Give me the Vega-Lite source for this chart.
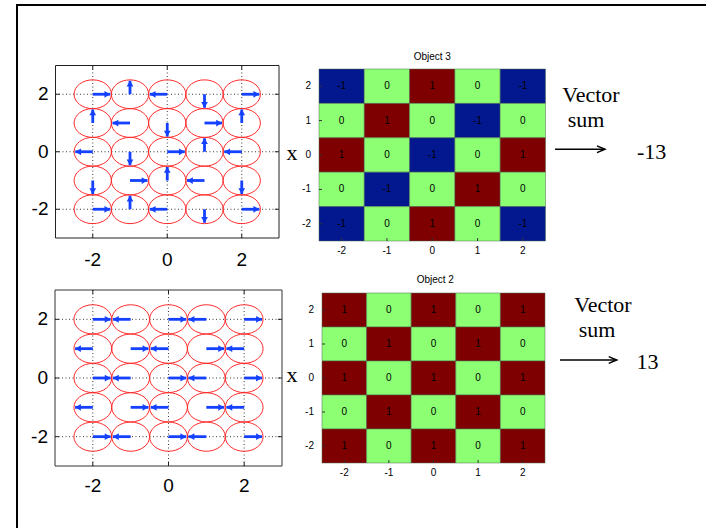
{
  "$schema": "https://vega.github.io/schema/vega-lite/v6.json",
  "width": 689,
  "height": 523,
  "autosize": {"type": "none"},
  "padding": {"left": 17, "top": 5, "right": 0, "bottom": 0},
  "background": "white",
  "config": {
    "view": {"stroke": null},
    "axis": {"disable": true},
    "legend": {"disable": true},
    "text": {"font": "Liberation Sans"}
  },
  "datasets": {
    "qticks": [{"t": -2, "label": "-2"}, {"t": 0, "label": "0"}, {"t": 2, "label": "2"}],
    "hticks": [{"t": -2, "label": "-2"}, {"t": -1, "label": "-1"}, {"t": 0, "label": "0"}, {"t": 1, "label": "1"}, {"t": 2, "label": "2"}],
    "arrows3": [
      {"x": -2, "y": 2, "tx": -1.53, "ty": 2, "deg": 90},
      {"x": -1, "y": 2, "tx": -1, "ty": 2.47, "deg": 0},
      {"x": 0, "y": 2, "tx": -0.47, "ty": 2, "deg": 270},
      {"x": 1, "y": 2, "tx": 1, "ty": 1.53, "deg": 180},
      {"x": 2, "y": 2, "tx": 2.47, "ty": 2, "deg": 90},
      {"x": -2, "y": 1, "tx": -2, "ty": 1.47, "deg": 0},
      {"x": -1, "y": 1, "tx": -1.47, "ty": 1, "deg": 270},
      {"x": 0, "y": 1, "tx": 0, "ty": 0.53, "deg": 180},
      {"x": 1, "y": 1, "tx": 1.47, "ty": 1, "deg": 90},
      {"x": 2, "y": 1, "tx": 2, "ty": 1.47, "deg": 0},
      {"x": -2, "y": 0, "tx": -2.47, "ty": 0, "deg": 270},
      {"x": -1, "y": 0, "tx": -1, "ty": -0.47, "deg": 180},
      {"x": 0, "y": 0, "tx": 0.47, "ty": 0, "deg": 90},
      {"x": 1, "y": 0, "tx": 1, "ty": 0.47, "deg": 0},
      {"x": 2, "y": 0, "tx": 1.53, "ty": 0, "deg": 270},
      {"x": -2, "y": -1, "tx": -2, "ty": -1.47, "deg": 180},
      {"x": -1, "y": -1, "tx": -0.53, "ty": -1, "deg": 90},
      {"x": 0, "y": -1, "tx": 0, "ty": -0.53, "deg": 0},
      {"x": 1, "y": -1, "tx": 0.53, "ty": -1, "deg": 270},
      {"x": 2, "y": -1, "tx": 2, "ty": -1.47, "deg": 180},
      {"x": -2, "y": -2, "tx": -1.53, "ty": -2, "deg": 90},
      {"x": -1, "y": -2, "tx": -1, "ty": -1.53, "deg": 0},
      {"x": 0, "y": -2, "tx": -0.47, "ty": -2, "deg": 270},
      {"x": 1, "y": -2, "tx": 1, "ty": -2.47, "deg": 180},
      {"x": 2, "y": -2, "tx": 2.47, "ty": -2, "deg": 90}
    ],
    "arrows2": [
      {"x": -2, "y": 2, "tx": -1.53, "ty": 2, "deg": 90},
      {"x": -1, "y": 2, "tx": -1.47, "ty": 2, "deg": 270},
      {"x": 0, "y": 2, "tx": 0.47, "ty": 2, "deg": 90},
      {"x": 1, "y": 2, "tx": 0.53, "ty": 2, "deg": 270},
      {"x": 2, "y": 2, "tx": 2.47, "ty": 2, "deg": 90},
      {"x": -2, "y": 1, "tx": -2.47, "ty": 1, "deg": 270},
      {"x": -1, "y": 1, "tx": -0.53, "ty": 1, "deg": 90},
      {"x": 0, "y": 1, "tx": -0.47, "ty": 1, "deg": 270},
      {"x": 1, "y": 1, "tx": 1.47, "ty": 1, "deg": 90},
      {"x": 2, "y": 1, "tx": 1.53, "ty": 1, "deg": 270},
      {"x": -2, "y": 0, "tx": -1.53, "ty": 0, "deg": 90},
      {"x": -1, "y": 0, "tx": -1.47, "ty": 0, "deg": 270},
      {"x": 0, "y": 0, "tx": 0.47, "ty": 0, "deg": 90},
      {"x": 1, "y": 0, "tx": 0.53, "ty": 0, "deg": 270},
      {"x": 2, "y": 0, "tx": 2.47, "ty": 0, "deg": 90},
      {"x": -2, "y": -1, "tx": -2.47, "ty": -1, "deg": 270},
      {"x": -1, "y": -1, "tx": -0.53, "ty": -1, "deg": 90},
      {"x": 0, "y": -1, "tx": -0.47, "ty": -1, "deg": 270},
      {"x": 1, "y": -1, "tx": 1.47, "ty": -1, "deg": 90},
      {"x": 2, "y": -1, "tx": 1.53, "ty": -1, "deg": 270},
      {"x": -2, "y": -2, "tx": -1.53, "ty": -2, "deg": 90},
      {"x": -1, "y": -2, "tx": -1.47, "ty": -2, "deg": 270},
      {"x": 0, "y": -2, "tx": 0.47, "ty": -2, "deg": 90},
      {"x": 1, "y": -2, "tx": 0.53, "ty": -2, "deg": 270},
      {"x": 2, "y": -2, "tx": 2.47, "ty": -2, "deg": 90}
    ],
    "obj3": [
      {"x": -2, "y": 2, "v": -1}, {"x": -1, "y": 2, "v": 0}, {"x": 0, "y": 2, "v": 1}, {"x": 1, "y": 2, "v": 0}, {"x": 2, "y": 2, "v": -1},
      {"x": -2, "y": 1, "v": 0}, {"x": -1, "y": 1, "v": 1}, {"x": 0, "y": 1, "v": 0}, {"x": 1, "y": 1, "v": -1}, {"x": 2, "y": 1, "v": 0},
      {"x": -2, "y": 0, "v": 1}, {"x": -1, "y": 0, "v": 0}, {"x": 0, "y": 0, "v": -1}, {"x": 1, "y": 0, "v": 0}, {"x": 2, "y": 0, "v": 1},
      {"x": -2, "y": -1, "v": 0}, {"x": -1, "y": -1, "v": -1}, {"x": 0, "y": -1, "v": 0}, {"x": 1, "y": -1, "v": 1}, {"x": 2, "y": -1, "v": 0},
      {"x": -2, "y": -2, "v": -1}, {"x": -1, "y": -2, "v": 0}, {"x": 0, "y": -2, "v": 1}, {"x": 1, "y": -2, "v": 0}, {"x": 2, "y": -2, "v": -1}
    ],
    "obj2": [
      {"x": -2, "y": 2, "v": 1}, {"x": -1, "y": 2, "v": 0}, {"x": 0, "y": 2, "v": 1}, {"x": 1, "y": 2, "v": 0}, {"x": 2, "y": 2, "v": 1},
      {"x": -2, "y": 1, "v": 0}, {"x": -1, "y": 1, "v": 1}, {"x": 0, "y": 1, "v": 0}, {"x": 1, "y": 1, "v": 1}, {"x": 2, "y": 1, "v": 0},
      {"x": -2, "y": 0, "v": 1}, {"x": -1, "y": 0, "v": 0}, {"x": 0, "y": 0, "v": 1}, {"x": 1, "y": 0, "v": 0}, {"x": 2, "y": 0, "v": 1},
      {"x": -2, "y": -1, "v": 0}, {"x": -1, "y": -1, "v": 1}, {"x": 0, "y": -1, "v": 0}, {"x": 1, "y": -1, "v": 1}, {"x": 2, "y": -1, "v": 0},
      {"x": -2, "y": -2, "v": 1}, {"x": -1, "y": -2, "v": 0}, {"x": 0, "y": -2, "v": 1}, {"x": 1, "y": -2, "v": 0}, {"x": 2, "y": -2, "v": 1}
    ],
    "notes3": [
      {"u": -3.096, "v": -0.145, "label": "x"},
      {"u": 3.504, "v": 1.549, "label": "Vector"},
      {"u": 3.394, "v": 0.814, "label": "sum"},
      {"u": 4.844, "v": -0.105, "label": "-13"}
    ],
    "notes2": [
      {"u": -3.173, "v": -0.109, "label": "x"},
      {"u": 3.8, "v": 1.95, "label": "Vector"},
      {"u": 3.666, "v": 1.206, "label": "sum"},
      {"u": 4.798, "v": 0.276, "label": "13"}
    ],
    "arrow3": [{"u1": 2.71, "u2": 3.813, "v": 0.166}],
    "arrow2": [{"u1": 2.836, "u2": 4.108, "v": 0.529}],
    "title3": [{"label": "Object 3"}],
    "title2": [{"label": "Object 2"}]
  },
  "resolve": {"scale": {"x": "independent", "y": "independent"}},
  "layer": [
    {
      "data": {"values": [{}]},
      "mark": {"type": "rect", "filled": false, "stroke": "black", "strokeWidth": 2},
      "encoding": {
        "x": {"datum": 0, "type": "quantitative", "scale": {"domain": [0, 1], "nice": false, "zero": false}},
        "x2": {"datum": 1.1},
        "y": {"datum": 1, "type": "quantitative", "scale": {"domain": [0, 1], "nice": false, "zero": false}},
        "y2": {"datum": -0.1}
      }
    },
    {
      "layer": [
        {
          "data": {"values": [{}]},
          "mark": {"type": "rect", "filled": false, "stroke": "#222", "strokeWidth": 1},
          "encoding": {
            "x": {"datum": -3, "type": "quantitative", "scale": {"domain": [-3, 3], "range": [38.5, 262], "nice": false, "zero": false}},
            "x2": {"datum": 3},
            "y": {"datum": -3, "type": "quantitative", "scale": {"domain": [-3, 3], "range": [233, 60.5], "nice": false, "zero": false}},
            "y2": {"datum": 3}
          }
        },
        {
          "data": {"name": "qticks"},
          "mark": {"type": "rule", "color": "#222", "strokeWidth": 0.9, "strokeDash": [1, 2.5]},
          "encoding": {"x": {"field": "t", "type": "quantitative"}, "y": {"datum": -3, "type": "quantitative"}, "y2": {"datum": 3}}
        },
        {
          "data": {"name": "qticks"},
          "mark": {"type": "rule", "color": "#222", "strokeWidth": 0.9, "strokeDash": [1, 2.5]},
          "encoding": {"y": {"field": "t", "type": "quantitative"}, "x": {"datum": -3, "type": "quantitative"}, "x2": {"datum": 3}}
        },
        {
          "data": {"name": "qticks"},
          "mark": {"type": "rule", "color": "#222", "strokeWidth": 1},
          "encoding": {"x": {"field": "t", "type": "quantitative"}, "y": {"datum": -3, "type": "quantitative"}, "y2": {"datum": -2.86}}
        },
        {
          "data": {"name": "qticks"},
          "mark": {"type": "rule", "color": "#222", "strokeWidth": 1},
          "encoding": {"x": {"field": "t", "type": "quantitative"}, "y": {"datum": 3, "type": "quantitative"}, "y2": {"datum": 2.86}}
        },
        {
          "data": {"name": "qticks"},
          "mark": {"type": "rule", "color": "#222", "strokeWidth": 1},
          "encoding": {"y": {"field": "t", "type": "quantitative"}, "x": {"datum": -3, "type": "quantitative"}, "x2": {"datum": -2.89}}
        },
        {
          "data": {"name": "qticks"},
          "mark": {"type": "rule", "color": "#222", "strokeWidth": 1},
          "encoding": {"y": {"field": "t", "type": "quantitative"}, "x": {"datum": 3, "type": "quantitative"}, "x2": {"datum": 2.89}}
        },
        {
          "data": {"name": "arrows3"},
          "mark": {"type": "point", "filled": false, "opacity": 1, "stroke": "#ff2a2a", "strokeWidth": 1, "size": 1391,
                   "shape": "M -1 0 C -1 -0.4264 -0.5523 -0.772 0 -0.772 C 0.5523 -0.772 1 -0.4264 1 0 C 1 0.4264 0.5523 0.772 0 0.772 C -0.5523 0.772 -1 0.4264 -1 0 Z"},
          "encoding": {"x": {"field": "x", "type": "quantitative"}, "y": {"field": "y", "type": "quantitative"}}
        },
        {
          "data": {"name": "arrows3"},
          "mark": {"type": "rule", "color": "#1440ff", "strokeWidth": 2.8},
          "encoding": {"x": {"field": "x", "type": "quantitative"}, "y": {"field": "y", "type": "quantitative"}, "x2": {"field": "tx"}, "y2": {"field": "ty"}}
        },
        {
          "data": {"name": "arrows3"},
          "mark": {"type": "point", "filled": true, "opacity": 1, "color": "#1440ff", "size": 81, "shape": "M 0 0 L 0.75 1.3 L -0.75 1.3 Z"},
          "encoding": {
            "x": {"field": "tx", "type": "quantitative"},
            "y": {"field": "ty", "type": "quantitative"},
            "angle": {"field": "deg", "type": "quantitative", "scale": {"domain": [0, 360], "range": [0, 360]}, "legend": null}
          }
        },
        {
          "data": {"name": "qticks"},
          "mark": {"type": "text", "fontSize": 19, "baseline": "middle", "align": "center", "dy": 22, "color": "black"},
          "encoding": {"x": {"field": "t", "type": "quantitative"}, "y": {"datum": -3, "type": "quantitative"}, "text": {"field": "label", "type": "nominal"}}
        },
        {
          "data": {"name": "qticks"},
          "mark": {"type": "text", "fontSize": 19, "baseline": "middle", "align": "right", "dx": -7, "color": "black"},
          "encoding": {"y": {"field": "t", "type": "quantitative"}, "x": {"datum": -3, "type": "quantitative"}, "text": {"field": "label", "type": "nominal"}}
        }
      ]
    },
    {
      "layer": [
        {
          "data": {"values": [{}]},
          "mark": {"type": "rect", "filled": false, "stroke": "#333", "strokeWidth": 1},
          "encoding": {
            "x": {"datum": -3, "type": "quantitative", "scale": {"domain": [-3, 3], "range": [38, 265], "nice": false, "zero": false}},
            "x2": {"datum": 3},
            "y": {"datum": -3, "type": "quantitative", "scale": {"domain": [-3, 3], "range": [461, 285], "nice": false, "zero": false}},
            "y2": {"datum": 3}
          }
        },
        {
          "data": {"name": "qticks"},
          "mark": {"type": "rule", "color": "#222", "strokeWidth": 0.9, "strokeDash": [1, 2.5]},
          "encoding": {"x": {"field": "t", "type": "quantitative"}, "y": {"datum": -3, "type": "quantitative"}, "y2": {"datum": 3}}
        },
        {
          "data": {"name": "qticks"},
          "mark": {"type": "rule", "color": "#222", "strokeWidth": 0.9, "strokeDash": [1, 2.5]},
          "encoding": {"y": {"field": "t", "type": "quantitative"}, "x": {"datum": -3, "type": "quantitative"}, "x2": {"datum": 3}}
        },
        {
          "data": {"name": "qticks"},
          "mark": {"type": "rule", "color": "#222", "strokeWidth": 1},
          "encoding": {"x": {"field": "t", "type": "quantitative"}, "y": {"datum": -3, "type": "quantitative"}, "y2": {"datum": -2.86}}
        },
        {
          "data": {"name": "qticks"},
          "mark": {"type": "rule", "color": "#222", "strokeWidth": 1},
          "encoding": {"x": {"field": "t", "type": "quantitative"}, "y": {"datum": 3, "type": "quantitative"}, "y2": {"datum": 2.86}}
        },
        {
          "data": {"name": "qticks"},
          "mark": {"type": "rule", "color": "#222", "strokeWidth": 1},
          "encoding": {"y": {"field": "t", "type": "quantitative"}, "x": {"datum": -3, "type": "quantitative"}, "x2": {"datum": -2.89}}
        },
        {
          "data": {"name": "qticks"},
          "mark": {"type": "rule", "color": "#222", "strokeWidth": 1},
          "encoding": {"y": {"field": "t", "type": "quantitative"}, "x": {"datum": 3, "type": "quantitative"}, "x2": {"datum": 2.89}}
        },
        {
          "data": {"name": "arrows2"},
          "mark": {"type": "point", "filled": false, "opacity": 1, "stroke": "#ff2a2a", "strokeWidth": 1, "size": 1428,
                   "shape": "M -1 0 C -1 -0.4264 -0.5523 -0.772 0 -0.772 C 0.5523 -0.772 1 -0.4264 1 0 C 1 0.4264 0.5523 0.772 0 0.772 C -0.5523 0.772 -1 0.4264 -1 0 Z"},
          "encoding": {"x": {"field": "x", "type": "quantitative"}, "y": {"field": "y", "type": "quantitative"}}
        },
        {
          "data": {"name": "arrows2"},
          "mark": {"type": "rule", "color": "#1440ff", "strokeWidth": 2.8},
          "encoding": {"x": {"field": "x", "type": "quantitative"}, "y": {"field": "y", "type": "quantitative"}, "x2": {"field": "tx"}, "y2": {"field": "ty"}}
        },
        {
          "data": {"name": "arrows2"},
          "mark": {"type": "point", "filled": true, "opacity": 1, "color": "#1440ff", "size": 81, "shape": "M 0 0 L 0.75 1.3 L -0.75 1.3 Z"},
          "encoding": {
            "x": {"field": "tx", "type": "quantitative"},
            "y": {"field": "ty", "type": "quantitative"},
            "angle": {"field": "deg", "type": "quantitative", "scale": {"domain": [0, 360], "range": [0, 360]}, "legend": null}
          }
        },
        {
          "data": {"name": "qticks"},
          "mark": {"type": "text", "fontSize": 19, "baseline": "middle", "align": "center", "dy": 20, "color": "black"},
          "encoding": {"x": {"field": "t", "type": "quantitative"}, "y": {"datum": -3, "type": "quantitative"}, "text": {"field": "label", "type": "nominal"}}
        },
        {
          "data": {"name": "qticks"},
          "mark": {"type": "text", "fontSize": 19, "baseline": "middle", "align": "right", "dx": -7, "color": "black"},
          "encoding": {"y": {"field": "t", "type": "quantitative"}, "x": {"datum": -3, "type": "quantitative"}, "text": {"field": "label", "type": "nominal"}}
        }
      ]
    },
    {
      "data": {"name": "obj3"},
      "layer": [
        {
          "mark": {"type": "rect", "stroke": "#4d6b4d", "strokeWidth": 0.5},
          "encoding": {
            "x": {"field": "x", "type": "ordinal", "scale": {"domain": [-2, -1, 0, 1, 2], "range": [302, 528.5], "paddingInner": 0, "paddingOuter": 0}},
            "y": {"field": "y", "type": "ordinal", "scale": {"domain": [2, 1, 0, -1, -2], "range": [64, 236], "paddingInner": 0, "paddingOuter": 0}},
            "fill": {"field": "v", "type": "ordinal", "scale": {"domain": [-1, 0, 1], "range": ["#03188f", "#8cff73", "#7f0000"]}, "legend": null}
          }
        },
        {
          "mark": {"type": "text", "fontSize": 10, "color": "black", "baseline": "middle"},
          "encoding": {
            "x": {"field": "x", "type": "ordinal"},
            "y": {"field": "y", "type": "ordinal"},
            "text": {"field": "v", "type": "nominal"}
          }
        }
      ]
    },
    {
      "layer": [
        {
          "data": {"name": "hticks"},
          "mark": {"type": "text", "fontSize": 10, "baseline": "middle", "align": "center", "dy": 10, "color": "black"},
          "encoding": {
            "x": {"field": "t", "type": "quantitative", "scale": {"domain": [-2.5, 2.5], "range": [302, 528.5], "nice": false, "zero": false}},
            "y": {"datum": -2.5, "type": "quantitative", "scale": {"domain": [-2.5, 2.5], "range": [236, 64], "nice": false, "zero": false}},
            "text": {"field": "label", "type": "nominal"}
          }
        },
        {
          "data": {"name": "hticks"},
          "mark": {"type": "text", "fontSize": 10, "baseline": "middle", "align": "right", "dx": -8, "color": "black"},
          "encoding": {"y": {"field": "t", "type": "quantitative"}, "x": {"datum": -2.5, "type": "quantitative"}, "text": {"field": "label", "type": "nominal"}}
        },
        {
          "data": {"name": "hticks"},
          "mark": {"type": "rule", "color": "#333", "strokeWidth": 1},
          "encoding": {"y": {"field": "t", "type": "quantitative"}, "x": {"datum": -2.5, "type": "quantitative"}, "x2": {"datum": -2.434}}
        },
        {
          "data": {"name": "hticks"},
          "mark": {"type": "rule", "color": "#333", "strokeWidth": 1},
          "encoding": {"x": {"field": "t", "type": "quantitative"}, "y": {"datum": -2.5, "type": "quantitative"}, "y2": {"datum": -2.413}}
        },
        {
          "data": {"name": "title3"},
          "mark": {"type": "text", "fontSize": 10, "baseline": "middle", "align": "center", "dy": -12, "color": "black"},
          "encoding": {"x": {"datum": 0, "type": "quantitative"}, "y": {"datum": 2.5, "type": "quantitative"}, "text": {"field": "label", "type": "nominal"}}
        },
        {
          "data": {"name": "notes3"},
          "mark": {"type": "text", "font": "Liberation Serif", "fontSize": 22, "baseline": "alphabetic", "align": "center", "color": "black"},
          "encoding": {"x": {"field": "u", "type": "quantitative"}, "y": {"field": "v", "type": "quantitative"}, "text": {"field": "label", "type": "nominal"}}
        },
        {
          "data": {"name": "arrow3"},
          "mark": {"type": "rule", "color": "black", "strokeWidth": 1.5},
          "encoding": {"x": {"field": "u1", "type": "quantitative"}, "x2": {"field": "u2"}, "y": {"field": "v", "type": "quantitative"}}
        },
        {
          "data": {"name": "arrow3"},
          "mark": {"type": "point", "filled": false, "opacity": 1, "stroke": "black", "strokeWidth": 1.5, "size": 256, "shape": "M -1 -0.42 L 0 0 L -1 0.42"},
          "encoding": {"x": {"field": "u2", "type": "quantitative"}, "y": {"field": "v", "type": "quantitative"}}
        }
      ]
    },
    {
      "data": {"name": "obj2"},
      "layer": [
        {
          "mark": {"type": "rect", "stroke": "#4d6b4d", "strokeWidth": 0.5},
          "encoding": {
            "x": {"field": "x", "type": "ordinal", "scale": {"domain": [-2, -1, 0, 1, 2], "range": [305, 528], "paddingInner": 0, "paddingOuter": 0}},
            "y": {"field": "y", "type": "ordinal", "scale": {"domain": [2, 1, 0, -1, -2], "range": [288, 458], "paddingInner": 0, "paddingOuter": 0}},
            "fill": {"field": "v", "type": "ordinal", "legend": null}
          }
        },
        {
          "mark": {"type": "text", "fontSize": 10, "color": "black", "baseline": "middle"},
          "encoding": {
            "x": {"field": "x", "type": "ordinal"},
            "y": {"field": "y", "type": "ordinal"},
            "text": {"field": "v", "type": "nominal"}
          }
        }
      ]
    },
    {
      "layer": [
        {
          "data": {"name": "hticks"},
          "mark": {"type": "text", "fontSize": 10, "baseline": "middle", "align": "center", "dy": 10, "color": "black"},
          "encoding": {
            "x": {"field": "t", "type": "quantitative", "scale": {"domain": [-2.5, 2.5], "range": [305, 528], "nice": false, "zero": false}},
            "y": {"datum": -2.5, "type": "quantitative", "scale": {"domain": [-2.5, 2.5], "range": [458, 288], "nice": false, "zero": false}},
            "text": {"field": "label", "type": "nominal"}
          }
        },
        {
          "data": {"name": "hticks"},
          "mark": {"type": "text", "fontSize": 10, "baseline": "middle", "align": "right", "dx": -8, "color": "black"},
          "encoding": {"y": {"field": "t", "type": "quantitative"}, "x": {"datum": -2.5, "type": "quantitative"}, "text": {"field": "label", "type": "nominal"}}
        },
        {
          "data": {"name": "hticks"},
          "mark": {"type": "rule", "color": "#333", "strokeWidth": 1},
          "encoding": {"y": {"field": "t", "type": "quantitative"}, "x": {"datum": -2.5, "type": "quantitative"}, "x2": {"datum": -2.433}}
        },
        {
          "data": {"name": "hticks"},
          "mark": {"type": "rule", "color": "#333", "strokeWidth": 1},
          "encoding": {"x": {"field": "t", "type": "quantitative"}, "y": {"datum": -2.5, "type": "quantitative"}, "y2": {"datum": -2.412}}
        },
        {
          "data": {"name": "title2"},
          "mark": {"type": "text", "fontSize": 10, "baseline": "middle", "align": "center", "dy": -13, "color": "black"},
          "encoding": {"x": {"datum": 0.04, "type": "quantitative"}, "y": {"datum": 2.5, "type": "quantitative"}, "text": {"field": "label", "type": "nominal"}}
        },
        {
          "data": {"name": "notes2"},
          "mark": {"type": "text", "font": "Liberation Serif", "fontSize": 22, "baseline": "alphabetic", "align": "center", "color": "black"},
          "encoding": {"x": {"field": "u", "type": "quantitative"}, "y": {"field": "v", "type": "quantitative"}, "text": {"field": "label", "type": "nominal"}}
        },
        {
          "data": {"name": "arrow2"},
          "mark": {"type": "rule", "color": "black", "strokeWidth": 1.5},
          "encoding": {"x": {"field": "u1", "type": "quantitative"}, "x2": {"field": "u2"}, "y": {"field": "v", "type": "quantitative"}}
        },
        {
          "data": {"name": "arrow2"},
          "mark": {"type": "point", "filled": false, "opacity": 1, "stroke": "black", "strokeWidth": 1.5, "size": 256, "shape": "M -1 -0.42 L 0 0 L -1 0.42"},
          "encoding": {"x": {"field": "u2", "type": "quantitative"}, "y": {"field": "v", "type": "quantitative"}}
        }
      ]
    }
  ]
}
